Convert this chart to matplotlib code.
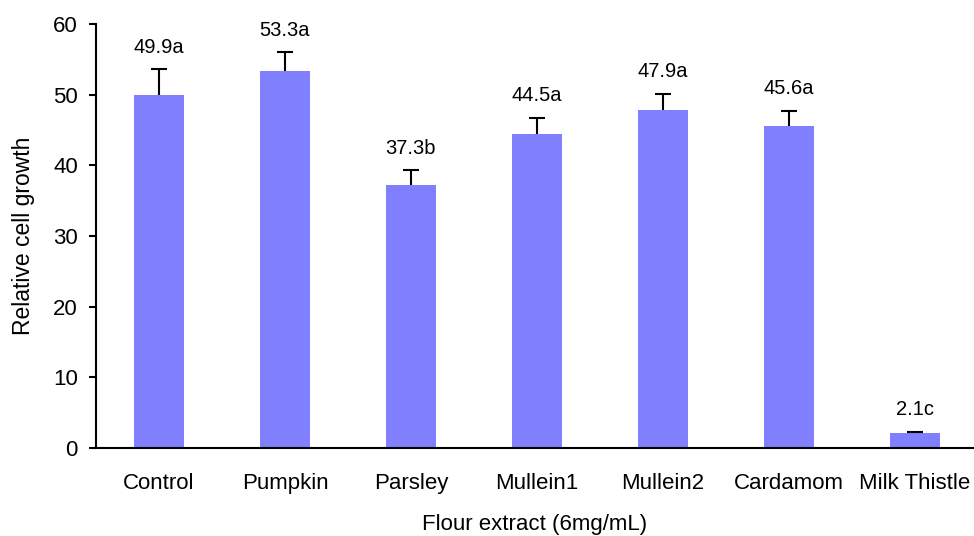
import matplotlib.pyplot as plt
import numpy as np

plt.rcParams['font.family'] = ['Liberation Sans', 'DejaVu Sans']

extracts = ['Control', 'Pumpkin', 'Parsley', 'Mullein1', 'Mullein2', 'Cardamom', 'Milk Thistle']
growth = [49.9, 53.3, 37.3, 44.5, 47.9, 45.6, 2.1]
errors = [3.7, 2.7, 2.0, 2.2, 2.2, 2.1, 0.15]
groups = ['a', 'a', 'b', 'a', 'a', 'a', 'c']

fig = plt.figure(figsize=(9.74, 5.36), dpi=100)
ax = fig.add_axes([0.0986, 0.164, 0.9014, 0.791])

x = np.arange(len(extracts))
ax.bar(x, growth, width=0.4, color='#8080FF', zorder=2)
_, caps, _ = ax.errorbar(x, growth, yerr=[np.zeros(len(errors)), errors], fmt='none',
                         ecolor='black', elinewidth=1.5, capsize=5.5, capthick=1.5, zorder=3)
# one-sided bars: drop the cap sitting on the bar top
caps[0].set_visible(False)

# mean value plus significance letter above each error bar
for xi, g, e, letter in zip(x, growth, errors, groups):
    ax.annotate(f'{g}{letter}', (xi, g + e), xytext=(0, 16), textcoords='offset points',
                ha='center', va='center', fontsize=14.5)

ax.set_xlim(-0.5, 6.47)
ax.set_ylim(0, 60)
ax.set_yticks(range(0, 61, 10))
ax.set_xticks(x)
ax.set_xticklabels(extracts)

for side in ['top', 'right']:
    ax.spines[side].set_visible(False)
ax.spines['left'].set_linewidth(1.5)
ax.spines['bottom'].set_linewidth(1.5)
ax.tick_params(axis='y', direction='out', length=5, width=1.5, labelsize=16, pad=8)
ax.tick_params(axis='x', length=0, labelsize=16, pad=18)

ax.set_xlabel('Flour extract (6mg/mL)', fontsize=16, labelpad=14)
ax.set_ylabel('Relative cell growth', fontsize=16.5, labelpad=13)

fig.savefig('out.png', dpi=100)
